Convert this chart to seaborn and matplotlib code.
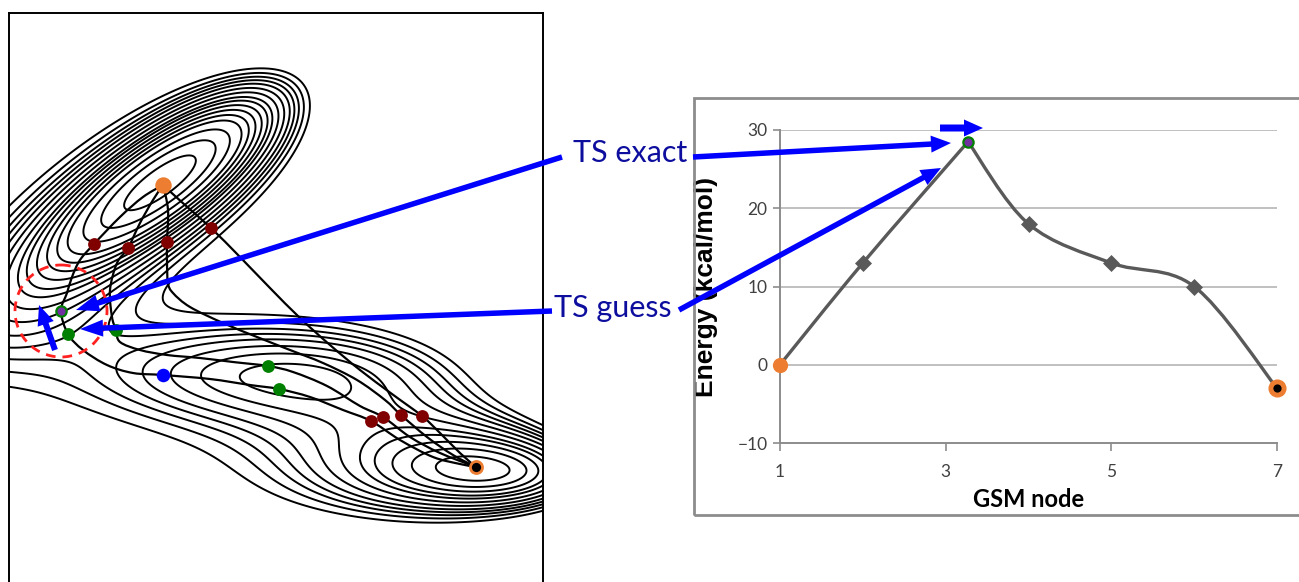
import numpy as np
import matplotlib
matplotlib.use('Agg')
import matplotlib.pyplot as plt
from matplotlib.path import Path
from matplotlib.patches import PathPatch, Circle, Rectangle
import seaborn as sns

# ---- surface: Mueller-Brown potential ----
mb_A = [-200, -100, -170, 15]
mb_a = [-1, -1, -6.5, 0.7]
mb_b = [0, 0, 11, 0.6]
mb_c = [-10, -10, -6.5, 0.7]
mb_x0 = [1, 0, -0.5, -1]
mb_y0 = [0, 0.5, 1.5, 1]
pes_levels = [-140, -130, -120, -110, -103, -96, -89, -82, -76, -68, -60, -52, -45,
              -38, -30, -20]

# reactant min and product min: MB coords -> panel coords
mb_anchor = [(-0.558, 1.442), (0.623, 0.028)]
panel_anchor = [(161, 182), (475, 469)]

# ---- string paths on the surface (panel coords, y down) ----
path1 = [(163, 185), (143, 197), (120, 217), (94, 244), (80, 260), (72, 277), (67, 293),
         (61, 311), (68, 334), (83, 350), (107, 365), (133, 373), (163, 375), (210, 379),
         (250, 385), (279, 389), (310, 397), (343, 410), (371, 421), (400, 440),
         (433, 457), (460, 464), (476, 467)]
path2 = [(163, 185), (153, 200), (140, 223), (128, 248), (117, 263), (110, 290), (112, 317),
         (116, 330), (120, 342), (140, 350), (167, 355), (200, 358), (233, 362), (268, 366),
         (293, 372), (327, 386), (360, 406), (383, 417), (410, 437), (440, 453), (476, 467)]
path3 = [(163, 185), (168, 210), (167, 242), (167, 262), (168, 283), (173, 293), (190, 307),
         (223, 323), (257, 337), (290, 350), (323, 363), (357, 380), (385, 400), (401, 415),
         (427, 437), (453, 455), (476, 467)]
path4 = [(163, 185), (185, 205), (211, 228), (240, 257), (270, 288), (300, 318), (330, 345),
         (360, 370), (392, 394), (422, 416), (440, 433), (460, 453), (476, 467)]

reactant = [(163, 185)]
product = [(476, 467)]
red_nodes = [(94, 244), (128, 248), (167, 242), (211, 228),
             (371, 421), (383, 417), (401, 415), (422, 416)]
green_nodes = [(68, 334), (116, 330), (268, 366), (279, 389)]
blue_nodes = [(163, 375)]
ts_exact = [(61, 311)]

# ---- energy profile ----
gsm_node = [1, 2, 3.27, 4, 5, 6, 7]
energy = [0, 13, 28.5, 18, 13, 10, -3]
x_ticks = [1, 3, 5, 7]
y_ticks = [-10, 0, 10, 20, 30]

ORANGE = '#ed7d31'
DARKRED = '#800000'
GREEN = '#008000'
PURPLE = '#7030a0'
ARROW = '#0000ff'
TEXTBLUE = '#0d0d9e'


def smooth(points):
    # Catmull-Rom curve through the points, drawn as cubic Bezier pieces
    p = np.asarray(points, float)
    ext = np.vstack([p[0], p, p[-1]])
    verts = [p[0]]
    codes = [Path.MOVETO]
    for i in range(1, len(ext) - 2):
        c1 = ext[i] + (ext[i + 1] - ext[i - 1]) / 6
        c2 = ext[i + 1] - (ext[i + 2] - ext[i]) / 6
        verts += [c1, c2, ext[i + 1]]
        codes += [Path.CURVE4] * 3
    return Path(verts, codes)


sns.set_theme(style='white')
plt.rcParams['font.family'] = ['Lato', 'DejaVu Sans']
plt.rcParams['contour.negative_linestyle'] = 'solid'

fig = plt.figure(figsize=(12.99, 5.82), dpi=100)

# ---------- left panel: PES contours ----------
ax1 = fig.add_axes([9 / 1299, -18 / 582, 534 / 1299, 587 / 582])
gx, gy = np.meshgrid(np.arange(0, 560, 1.0), np.arange(0, 610, 1.0))
(mx1, my1), (mx2, my2) = mb_anchor
(px1, py1), (px2, py2) = panel_anchor
X = mx1 + (gx - px1) * (mx2 - mx1) / (px2 - px1)
Y = my1 + (gy - py1) * (my2 - my1) / (py2 - py1)
Z = np.zeros_like(X)
for A, a, b, c, x0, y0 in zip(mb_A, mb_a, mb_b, mb_c, mb_x0, mb_y0):
    Z += A * np.exp(a * (X - x0) ** 2 + b * (X - x0) * (Y - y0) + c * (Y - y0) ** 2)
ax1.contour(gx, gy, Z, levels=pes_levels, colors='black', linewidths=1.4,
            linestyles='solid')

for pth in [path1, path2, path3, path4]:
    ax1.add_patch(PathPatch(smooth(pth), fc='none', ec='black', lw=1.6, zorder=3))

def pts(lst):
    return [q[0] for q in lst], [q[1] for q in lst]

sns.scatterplot(x=pts(red_nodes)[0], y=pts(red_nodes)[1], color=DARKRED, s=85,
                linewidth=0, ax=ax1, zorder=5)
sns.scatterplot(x=pts(green_nodes)[0], y=pts(green_nodes)[1], color=GREEN, s=85,
                linewidth=0, ax=ax1, zorder=5)
sns.scatterplot(x=pts(blue_nodes)[0], y=pts(blue_nodes)[1], color='#0000ff', s=95,
                linewidth=0, ax=ax1, zorder=5)
sns.scatterplot(x=pts(reactant)[0], y=pts(reactant)[1], color=ORANGE, s=140,
                linewidth=0, ax=ax1, zorder=5)
sns.scatterplot(x=pts(product)[0], y=pts(product)[1], color='black', s=75,
                edgecolor=ORANGE, linewidth=2, ax=ax1, zorder=5)
sns.scatterplot(x=pts(ts_exact)[0], y=pts(ts_exact)[1], color=PURPLE, s=55,
                edgecolor=GREEN, linewidth=1.6, ax=ax1, zorder=6)
ax1.add_patch(Circle(ts_exact[0], 46, fill=False, ec='#ff2020', lw=2,
                     ls=(0, (3.5, 2.5)), zorder=6))

ax1.set_xlim(9, 543)
ax1.set_ylim(600, 13)
ax1.set_xticks([])
ax1.set_yticks([])
for s in ax1.spines.values():
    s.set_color('black')
    s.set_linewidth(1.4)

# ---------- right panel: energy along the string ----------
fig.add_artist(Rectangle((694 / 1299, (582 - 515) / 582), 0.6, 417 / 582, fill=False,
                         ec='#8c8c8c', lw=2, transform=fig.transFigure))
ax2 = fig.add_axes([780 / 1299, (582 - 443) / 582, 497 / 1299, 313 / 582])
ax2.set_xlim(1, 7)
ax2.set_ylim(-10, 30)
for yv in y_ticks[1:]:
    ax2.axhline(yv, color='#c0c0c0', lw=1.4, zorder=0)
ax2.add_patch(PathPatch(smooth(list(zip(gsm_node, energy))[:3]), fc='none',
                        ec='#595959', lw=2.4, zorder=3))
ax2.add_patch(PathPatch(smooth(list(zip(gsm_node, energy))[2:]), fc='none',
                        ec='#595959', lw=2.4, zorder=3))
sns.scatterplot(x=[gsm_node[i] for i in (1, 3, 4, 5)], y=[energy[i] for i in (1, 3, 4, 5)],
                marker='D', color='#595959', s=75, linewidth=0, ax=ax2, zorder=4)
sns.scatterplot(x=gsm_node[:1], y=energy[:1], color=ORANGE, s=120, linewidth=0,
                ax=ax2, zorder=5, clip_on=False)
sns.scatterplot(x=gsm_node[-1:], y=energy[-1:], color=ORANGE, s=170, linewidth=0,
                ax=ax2, zorder=5, clip_on=False)
sns.scatterplot(x=gsm_node[-1:], y=energy[-1:], color='black', s=35, linewidth=0,
                ax=ax2, zorder=6, clip_on=False)
sns.scatterplot(x=gsm_node[2:3], y=energy[2:3], color=PURPLE, s=55, edgecolor=GREEN,
                linewidth=1.6, ax=ax2, zorder=6, clip_on=False)

ax2.set_xticks(x_ticks)
ax2.set_yticks(y_ticks)
ax2.tick_params(axis='both', colors='#8c8c8c', labelcolor='#404040', labelsize=12.5,
                direction='out', width=1.2)
ax2.tick_params(axis='x', length=6, pad=9, bottom=True)
ax2.tick_params(axis='y', length=5, pad=4, left=True)
for side in ['top', 'right']:
    ax2.spines[side].set_visible(False)
for side in ['left', 'bottom']:
    ax2.spines[side].set_color('#8c8c8c')
    ax2.spines[side].set_linewidth(1.4)
ax2.set_xlabel('GSM node', fontsize=17, fontweight='bold', color='black', labelpad=6)
ax2.set_ylabel('Energy (kcal/mol)', fontsize=19, fontweight='bold', color='black',
               family=['Liberation Sans', 'DejaVu Sans'])
ax2.yaxis.set_label_coords(-0.125, 0.5)
ax2.grid(False)

# ---------- annotations (figure pixel space) ----------
ov = fig.add_axes([0, 0, 1, 1], zorder=10)
ov.set_xlim(0, 1299)
ov.set_ylim(582, 0)
ov.axis('off')

arrows = [
    ((562, 157), (76, 310), 5.5, 17, 23),
    ((552, 311), (80, 329), 5.5, 17, 23),
    ((693, 157), (951, 143), 5.5, 17, 20),
    ((679, 310), (941, 168), 5.5, 17, 20),
    ((940, 128), (983, 128), 7, 17, 19),
    ((55, 350), (39, 305), 6, 17, 20),
]
for (x0, y0), (x1, y1), w, hw, hl in arrows:
    ov.arrow(x0, y0, x1 - x0, y1 - y0, width=w, head_width=hw, head_length=hl,
             length_includes_head=True, color=ARROW, lw=0)

ov.text(630, 162, 'TS exact', color=TEXTBLUE, fontsize=22, ha='center', va='baseline')
ov.text(613, 317, 'TS guess', color=TEXTBLUE, fontsize=22, ha='center', va='baseline')

fig.savefig('out.png', dpi=100)
